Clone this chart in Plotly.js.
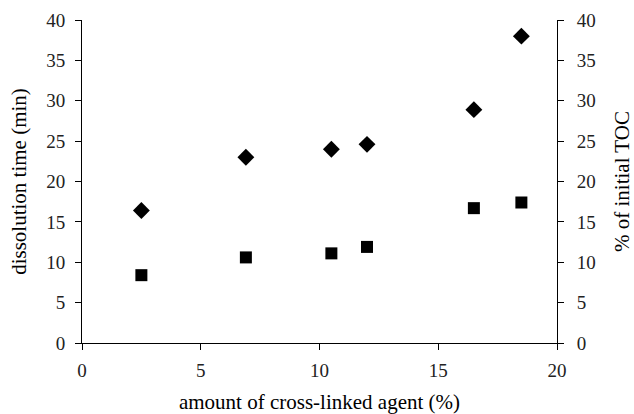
<!DOCTYPE html>
<html>
<head>
<meta charset="utf-8">
<script src="https://cdn.plot.ly/plotly-3.0.1.min.js"></script>
<style>html,body{margin:0;padding:0;background:#fff;}#chart{width:634px;height:414px;}</style>
</head>
<body>
<div id="chart"></div>
<script>
const crossLinker = [2.5, 6.9, 10.5, 12.0, 16.5, 18.5];
const dissolutionTime = [16.4, 23.0, 24.0, 24.6, 28.9, 38.0];
const initialTOC = [8.4, 10.6, 11.1, 11.9, 16.7, 17.4];
const tickVals = [0, 5, 10, 15, 20, 25, 30, 35, 40];
const xTickVals = [0, 5, 10, 15, 20];

const fontFam = 'Liberation Serif, Times New Roman, serif';

const traces = [
  {
    x: crossLinker, y: dissolutionTime, type: 'scatter', mode: 'markers',
    name: 'dissolution time',
    marker: {symbol: 'diamond', size: 13, color: '#000'},
    yaxis: 'y'
  },
  {
    x: crossLinker, y: initialTOC, type: 'scatter', mode: 'markers',
    name: '% of initial TOC',
    marker: {symbol: 'square', size: 12, color: '#000'},
    yaxis: 'y2'
  }
];

const layout = {
  width: 634, height: 414,
  margin: {l: 82, r: 77, t: 20, b: 71},
  paper_bgcolor: '#fff', plot_bgcolor: '#fff',
  showlegend: false,
  font: {family: fontFam, color: '#000', size: 19},
  xaxis: {
    range: [0, 20], tickvals: xTickVals, ticks: 'outside', ticklen: 6, tickwidth: 1,
    tickcolor: '#000', showline: true, linecolor: '#000', linewidth: 1,
    showgrid: false, zeroline: false, ticklabelstandoff: 4,
    tickfont: {family: fontFam, size: 19, color: '#222'},
    title: {text: 'amount of cross-linked agent (%)', font: {family: fontFam, size: 21, color: '#000'}, standoff: 18}
  },
  yaxis: {
    range: [0, 40], tickvals: tickVals, ticks: 'outside', ticklen: 6, tickwidth: 1,
    tickcolor: '#000', showline: true, linecolor: '#000', linewidth: 1,
    showgrid: false, zeroline: false, ticklabelstandoff: 6,
    tickfont: {family: fontFam, size: 19, color: '#222'},
    title: {text: 'dissolution time (min)', font: {family: fontFam, size: 21, color: '#000'}, standoff: 13}
  },
  yaxis2: {
    range: [0, 40], tickvals: tickVals, ticks: 'outside', ticklen: 6, tickwidth: 1,
    tickcolor: '#000', showline: true, linecolor: '#000', linewidth: 1,
    showgrid: false, zeroline: false, overlaying: 'y', side: 'right', ticklabelstandoff: 9,
    tickfont: {family: fontFam, size: 19, color: '#222'},
    title: {text: '% of initial TOC', font: {family: fontFam, size: 21, color: '#000'}, standoff: 26}
  }
};

Plotly.newPlot('chart', traces, layout, {displayModeBar: false, staticPlot: true});
</script>
</body>
</html>
